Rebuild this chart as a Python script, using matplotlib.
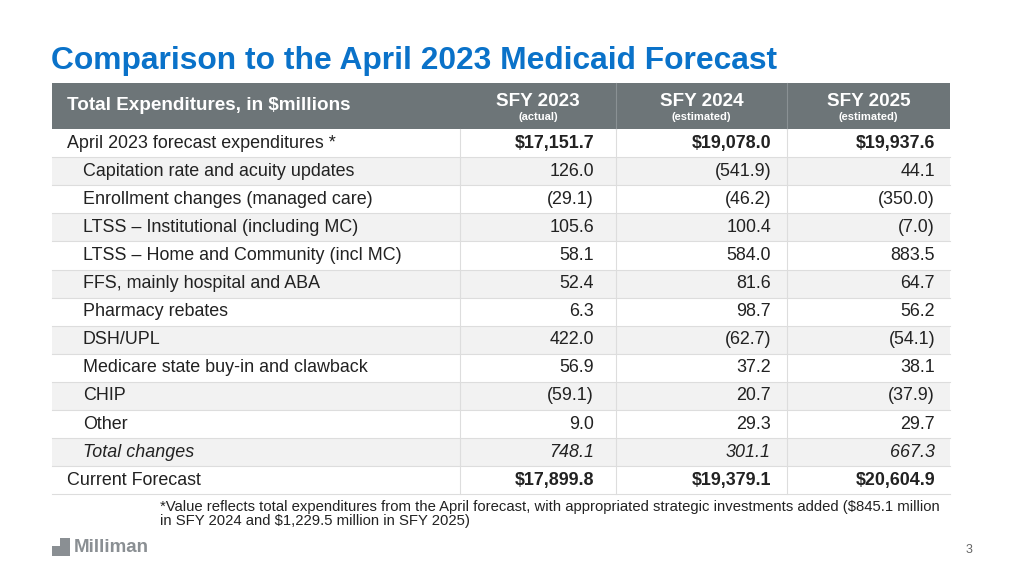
import matplotlib
matplotlib.use("Agg")
import matplotlib.pyplot as plt
from matplotlib.patches import Rectangle

plt.rcParams["font.family"] = ["Liberation Sans", "DejaVu Sans"]

title = "Comparison to the April 2023 Medicaid Forecast"
col_header = "Total Expenditures, in $millions"
years = ["SFY 2023", "SFY 2024", "SFY 2025"]
year_notes = ["(actual)", "(estimated)", "(estimated)"]
labels = [
    "April 2023 forecast expenditures *",
    "Capitation rate and acuity updates",
    "Enrollment changes (managed care)",
    "LTSS \u2013 Institutional (including MC)",
    "LTSS \u2013 Home and Community (incl MC)",
    "FFS, mainly hospital and ABA",
    "Pharmacy rebates",
    "DSH/UPL",
    "Medicare state buy-in and clawback",
    "CHIP",
    "Other",
    "Total changes",
    "Current Forecast",
]
sfy2023 = ["$17,151.7", "126.0", "(29.1)", "105.6", "58.1", "52.4", "6.3", "422.0", "56.9", "(59.1)", "9.0", "748.1", "$17,899.8"]
sfy2024 = ["$19,078.0", "(541.9)", "(46.2)", "100.4", "584.0", "81.6", "98.7", "(62.7)", "37.2", "20.7", "29.3", "301.1", "$19,379.1"]
sfy2025 = ["$19,937.6", "44.1", "(350.0)", "(7.0)", "883.5", "64.7", "56.2", "(54.1)", "38.1", "(37.9)", "29.7", "667.3", "$20,604.9"]
footnote = ("*Value reflects total expenditures from the April forecast, with appropriated strategic investments added ($845.1 million\n"
            "in SFY 2024 and $1,229.5 million in SFY 2025)")

fig = plt.figure(figsize=(10.24, 5.75), dpi=100)
ax = fig.add_axes([0, 0, 1, 1])
ax.set_xlim(0, 1024)
ax.set_ylim(575, 0)
ax.axis("off")

blue = "#0a72c9"
hdr = "#6d7578"
txt = "#222222"
x0, x1 = 52, 950
cols = [52, 460, 616, 787, 950]
right_edges = [594, 771, 935]

ax.text(51, 61, title, color=blue, fontsize=22.9, fontweight="bold", va="center")

# header
ax.add_patch(Rectangle((x0, 83), x1 - x0, 46, color=hdr, lw=0))
ax.text(67, 106, col_header, color="white", fontsize=13.6, fontweight="bold", va="center")
for i, (y, n) in enumerate(zip(years, year_notes)):
    cx = (cols[i + 1] + cols[i + 2]) / 2
    ax.text(cx, 101, y, color="white", fontsize=13.6, fontweight="bold", ha="center", va="center")
    ax.text(cx, 117, n, color="white", fontsize=8, fontweight="bold", ha="center", va="center")
for c in cols[2:4]:
    ax.plot([c, c], [83, 129], color="#8a9194", lw=0.8)

top, rh = 129, 28.1
for r, lab in enumerate(labels):
    y = top + r * rh
    shade = "#f2f2f2" if r % 2 == 1 else "white"
    ax.add_patch(Rectangle((x0, y), x1 - x0, rh, color=shade, lw=0))
    ax.plot([x0, x1], [y + rh, y + rh], color="#dddddd", lw=0.8)
    cy = y + rh / 2
    bold = r in (0, len(labels) - 1)
    italic = r == len(labels) - 2
    indent = 0 if bold else 16
    st = "italic" if italic else "normal"
    ax.text(67 + indent, cy, lab, color=txt, fontsize=12.9, va="center", style=st)
    for j, vals in enumerate([sfy2023, sfy2024, sfy2025]):
        ax.text(right_edges[j], cy, vals[r], color=txt, fontsize=12.9, ha="right", va="center",
                fontweight="bold" if bold else "normal", style=st)
bottom = top + len(labels) * rh
for c in cols[1:4]:
    ax.plot([c, c], [top, bottom], color="#dddddd", lw=0.8)

ax.text(160, 514, footnote, color=txt, fontsize=10.7, va="center", linespacing=1.0)

# logo
ax.add_patch(Rectangle((52, 538), 18, 18, color="#8a8f93", lw=0))
ax.add_patch(Rectangle((52, 538), 8, 8, color="white", lw=0))
ax.text(74, 548, "Milliman", color="#8a8f93", fontsize=13.5, fontweight="bold", va="center")
ax.text(972, 550, "3", color="#666666", fontsize=9, ha="right", va="center")

fig.savefig("out.png", dpi=100)
